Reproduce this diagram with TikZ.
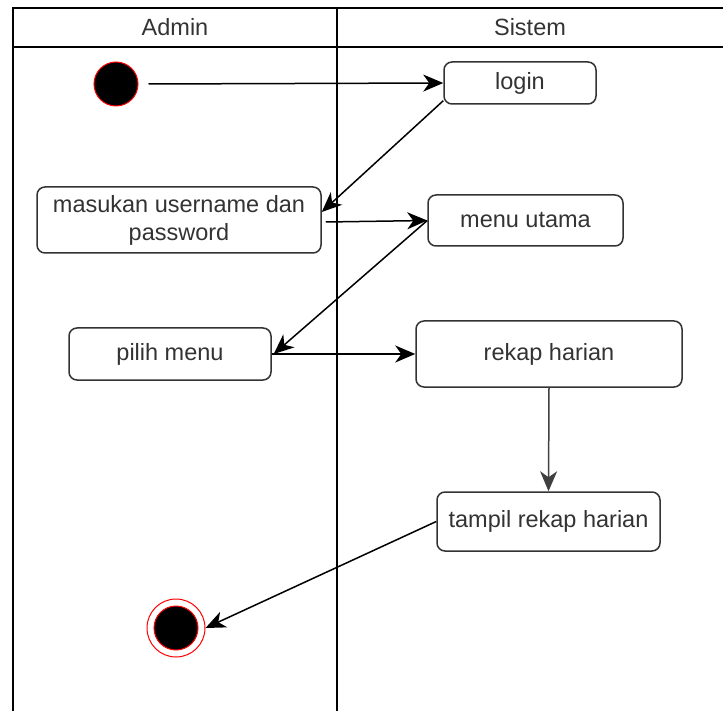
\documentclass[tikz,border=0pt]{standalone}
\usepackage{fontspec}
\setmainfont{Liberation Sans}
\usepackage{xcolor}
\usetikzlibrary{arrows.meta, positioning, shapes.geometric}

\tikzset{
    activity/.style={draw=black!80, line width=1.5pt, rounded corners=8pt, align=center, fill=white, text=black!80},
    flow/.style={-{Stealth[length=20pt, width=17pt, inset=6pt]}, line width=1.5pt},
    lane/.style={line width=1.5pt}
}

\begin{document}
\begin{tikzpicture}[x=1pt, y=-1pt, font=\fontsize{23.5}{28}\selectfont]
    \useasboundingbox (0,0) rectangle (723,711);

    % Swimlanes
    \draw[lane] (723,8) -- (13,8) -- (13,711);
    \draw[lane] (13,47) -- (723,47);
    \draw[lane] (337,8) -- (337,711);
    \node[text=black!80] (admin) at (175,27) {Admin};
    \node[text=black!80] (sistem) at (530,27) {Sistem};

    % Start
    \node[circle, fill=black, draw=red, line width=1pt, minimum size=44pt, inner sep=0pt] (start) at (116,84) {};

    % Activities
    \node[activity, minimum width=152pt, minimum height=42pt] (login) at (520,83) {login};
    \node[activity, minimum width=284pt, minimum height=66pt, inner sep=1pt] (masukan) at (179,220) {masukan username dan\\password};
    \node[activity, minimum width=195pt, minimum height=51pt] (menu) at (525.5,220.5) {menu utama};
    \node[activity, minimum width=202pt, minimum height=52pt] (pilih) at (170,354) {pilih menu};
    \node[activity, minimum width=266pt, minimum height=66pt] (rekap) at (549,354) {rekap harian};
    \node[activity, minimum width=223pt, minimum height=59pt, inner sep=1pt] (tampil) at (548.5,521.5) {tampil rekap harian};

    % End
    \node[circle, draw=red, line width=1pt, minimum size=58pt, inner sep=0pt] (finish) at (176,628) {};
    \node[circle, fill=black, draw=red, line width=1pt, minimum size=44pt, inner sep=0pt] (finishdot) at (finish) {};

    % Flow
    \draw[flow] ([xshift=10pt]start.east) -- (login.west);
    \draw[flow] ([yshift=4pt]login.south west) -- ([yshift=8pt]masukan.east);
    \draw[flow] ([xshift=4pt,yshift=-2pt]masukan.east) -- (menu.west);
    \draw[flow] (menu.west) -- ([xshift=2pt]pilih.east);
    \draw[flow] (pilih.east) -- (rekap.west);
    \draw[flow, black!75] (rekap.south) -- (tampil.north);
    \draw[flow] (tampil.west) -- (finish.east);
\end{tikzpicture}
\end{document}
